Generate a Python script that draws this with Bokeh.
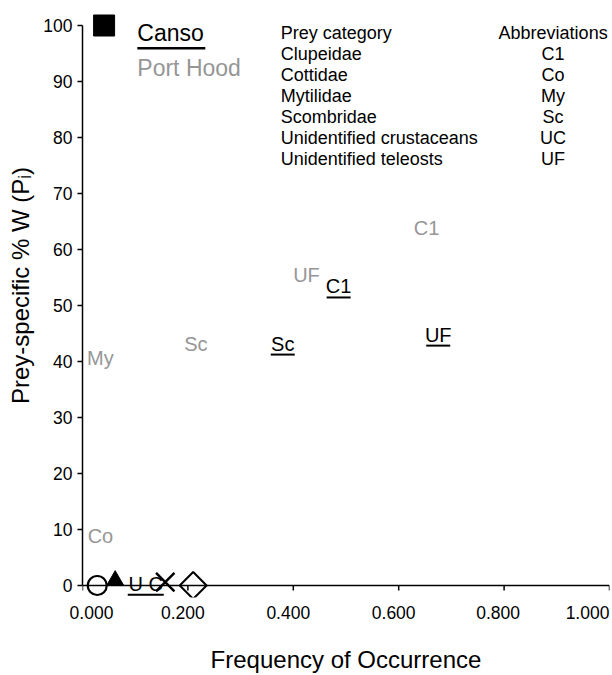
from bokeh.plotting import figure
from bokeh.models import ColumnDataSource, Range1d, FixedTicker, Span
from bokeh.embed import file_html
from bokeh.resources import INLINE
from bokeh.core.properties import value
import math

# ---------------- data ----------------
x_ticks = [0.0, 0.2, 0.4, 0.6, 0.8, 1.0]
x_tick_labels = ["0.000", "0.200", "0.400", "0.600", "0.800", "1.000"]
y_ticks = [0, 10, 20, 30, 40, 50, 60, 70, 80, 90, 100]

# Port Hood (grey labels): frequency of occurrence, prey-specific %W
porthood_prey = ["C1", "Co", "My", "Sc", "UF"]
porthood_fo = [0.653, 0.034, 0.034, 0.215, 0.425]
porthood_pw = [63.9, 8.9, 40.7, 43.2, 55.5]

# Canso (black, underlined labels)
canso_prey = ["C1", "Sc", "UF", "U C"]
canso_fo = [0.486, 0.380, 0.675, 0.120]
canso_pw = [53.4, 43.2, 44.8, 0.3]

# symbols
marker_fo = [0.041, 0.028, 0.062, 0.157, 0.210]
marker_pw = [100.0, 0.0, 0.9, 0.6, 0.0]
marker_shape = ["square", "circle", "triangle", "x", "square"]
marker_filled = [True, False, True, False, False]

# abbreviation table
prey_categories = ["Clupeidae", "Cottidae", "Mytilidae", "Scombridae",
                   "Unidentified crustaceans", "Unidentified teleosts"]
abbreviations = ["C1", "Co", "My", "Sc", "UC", "UF"]

sites = ["Canso", "Port Hood"]

# ---------------- style / layout ----------------
FONT = "Liberation Sans"
GREY = "#969696"
NBSP = "\u00a0"
W, H = 612, 675
ML, MR, MT, MB = 82, 3, 13, 78
PX_Y = 5.6
Y1 = 100 + (25 - MT) / PX_Y
Y0 = -((H - MB) - 585) / PX_Y
PX_X = (W - ML - MR) / 1.0
# horizontal nudges (px) of the x tick labels relative to their ticks
x_label_nudge = [9, -5, -5, -5, -6, -22]

p = figure(width=W, height=H, output_backend="svg", toolbar_location=None,
           x_range=Range1d(0, 1.0), y_range=Range1d(Y0, Y1),
           min_border_left=ML, min_border_right=MR, min_border_top=MT,
           min_border_bottom=MB)
p.outline_line_color = None
p.grid.visible = False
p.background_fill_color = "white"
p.border_fill_color = "white"

# y axis
ya = p.yaxis[0]
ya.ticker = FixedTicker(ticks=y_ticks)
ya.bounds = (0, 100)
ya.axis_line_color = "black"
ya.axis_line_width = 1.5
ya.major_tick_line_width = 1.5
ya.major_tick_in = 0
ya.major_tick_out = 5
ya.minor_tick_line_color = None
ya.major_label_standoff = 5
ya.major_label_text_font = FONT
ya.major_label_text_font_size = "17.5px"
ya.major_label_text_color = "black"
ya.axis_label = NBSP * 6 + "Prey-specific % W (Pᵢ)"
ya.axis_label_text_font = FONT
ya.axis_label_text_font_size = "24px"
ya.axis_label_text_font_style = "normal"
ya.axis_label_standoff = 6
ya.axis_label_text_color = "black"

# x axis: labels from the axis, line and tick marks drawn at y = 0
label_pos = [round(t + n / PX_X, 4) for t, n in zip(x_ticks, x_label_nudge)]
xa = p.xaxis[0]
xa.ticker = FixedTicker(ticks=label_pos)
xa.major_label_overrides = {lp: lab for lp, lab in zip(label_pos, x_tick_labels)}
xa.axis_line_color = None
xa.major_tick_line_color = None
xa.major_tick_in = 0
xa.major_tick_out = 0
xa.minor_tick_line_color = None
xa.major_label_standoff = 8
xa.major_label_text_font = FONT
xa.major_label_text_font_size = "17.5px"
xa.major_label_text_color = "black"
xa.axis_label = "Frequency of Occurrence"
xa.axis_label_text_font = FONT
xa.axis_label_text_font_size = "24px"
xa.axis_label_text_font_style = "normal"
xa.axis_label_standoff = 24
xa.axis_label_text_color = "black"

p.add_layout(Span(location=0, dimension="width", line_color="black", line_width=1.5))
tick_len = 5 / PX_Y
p.segment(x0=x_ticks, x1=x_ticks, y0=[0] * len(x_ticks), y1=[-tick_len] * len(x_ticks),
          line_color="black", line_width=1.5)

# markers
msrc = ColumnDataSource(dict(
    x=marker_fo, y=marker_pw, marker=marker_shape,
    fill=["black" if f else None for f in marker_filled],
    size=[21, 19, 17, 26, 19],
    angle=[0, 0, 0, 0, math.pi / 4],
    lw=[1, 2.2, 1, 2.5, 2],
))
p.scatter("x", "y", source=msrc, marker="marker", size="size", angle="angle",
          fill_color="fill", line_color="black", line_width="lw")

# Port Hood labels (grey)
p.text(porthood_fo, porthood_pw, text=porthood_prey, text_font=value(FONT),
       text_font_size="20px", text_color=GREY, text_align="center",
       text_baseline="middle")

# Canso labels (black, underlined)
p.text(canso_fo, canso_pw, text=canso_prey, text_font=value(FONT),
       text_font_size="20px", text_color="black", text_align="center",
       text_baseline="middle")
half = [len(t) * 6.0 / PX_X for t in canso_prey]
ul_dy = 11 / PX_Y
p.segment(x0=[x - h for x, h in zip(canso_fo, half)],
          x1=[x + h for x, h in zip(canso_fo, half)],
          y0=[y - ul_dy for y in canso_pw], y1=[y - ul_dy for y in canso_pw],
          line_color="black", line_width=2)

# site legend
LEG_X, LEG_Y, LEG_STEP = 0.104, 98.6, 6.1
p.text([LEG_X], [LEG_Y], text=[sites[0]], text_font=value(FONT),
       text_font_size="23px", text_color="black", text_align="left",
       text_baseline="middle")
p.text([LEG_X], [LEG_Y - LEG_STEP], text=[sites[1]], text_font=value(FONT),
       text_font_size="23px", text_color=GREY, text_align="left",
       text_baseline="middle")
p.segment(x0=[LEG_X], x1=[LEG_X + 68 / PX_X], y0=[LEG_Y - 2.65], y1=[LEG_Y - 2.65],
          line_color="black", line_width=2.5)

# abbreviation table
TAB_XL, TAB_XR, TAB_Y, TAB_STEP = 0.376, 0.893, 98.75, 3.76
rows_left = ["Prey category"] + prey_categories
rows_right = ["Abbreviations"] + abbreviations
row_y = [TAB_Y - i * TAB_STEP for i in range(len(rows_left))]
p.text([TAB_XL] * len(rows_left), row_y, text=rows_left, text_font=value(FONT),
       text_font_size="18px", text_color="black", text_align="left",
       text_baseline="middle")
p.text([TAB_XR] * len(rows_right), row_y, text=rows_right, text_font=value(FONT),
       text_font_size="18px", text_color="black", text_align="center",
       text_baseline="middle")

open("out.html", "w").write(file_html(p, INLINE))
